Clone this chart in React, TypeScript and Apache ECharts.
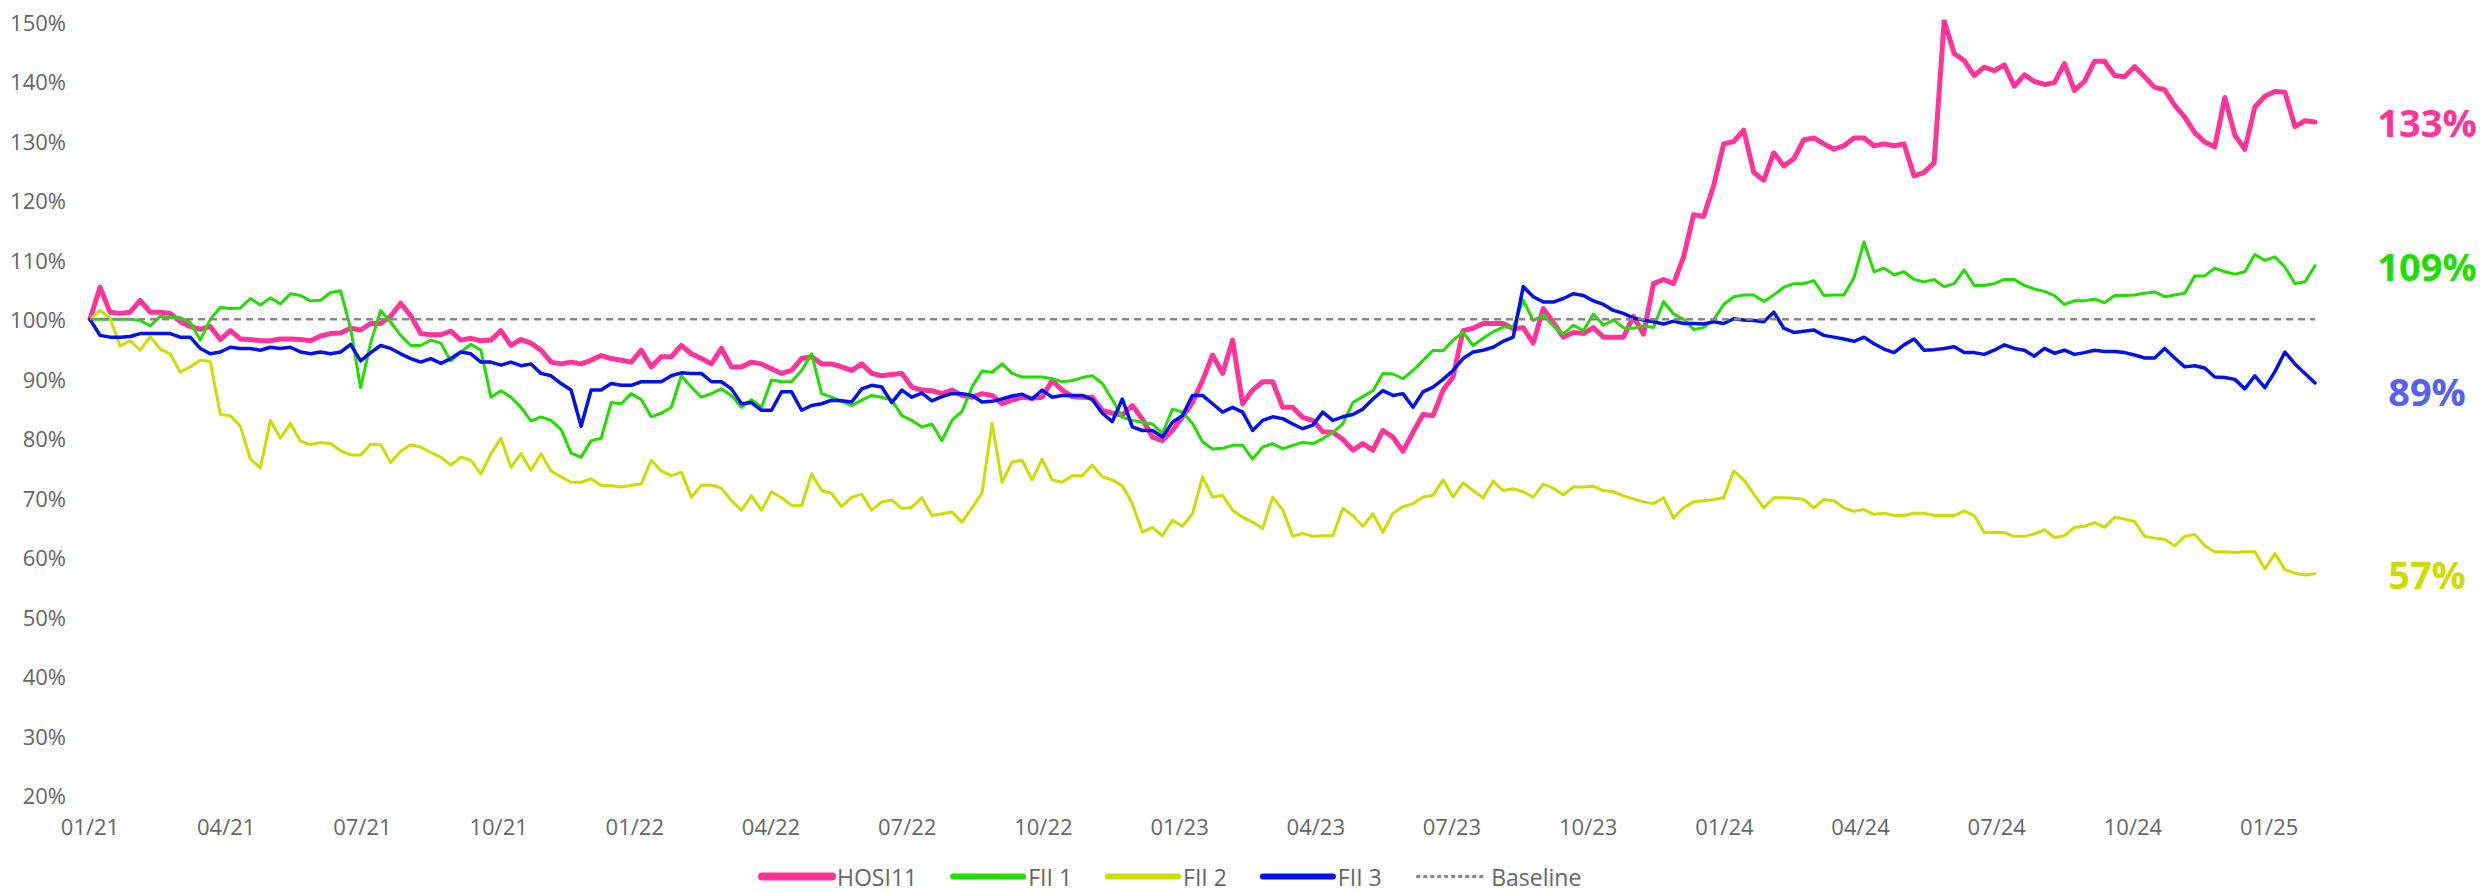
import React, { useEffect, useRef } from "react";
import * as echarts from "echarts";

// Months elapsed since Jan 2021 at the last observation (early Feb 2025)
const END_MONTH = 49.01;

// Normalised performance (%), sampled at equal time steps from Jan 2021 to Feb 2025
const hosi11 = [
  100, 105.4, 101.2, 101.0, 101.2, 103.2, 101.2, 101.2, 101.0, 99.6, 98.8, 98.3, 98.8, 96.6, 98.1, 96.7, 96.6, 96.4, 96.4, 96.7, 96.7, 96.6, 96.4, 97.2, 97.6, 97.7, 98.5, 98.2, 99.3, 99.3, 100.5, 102.7, 100.6, 97.6, 97.4, 97.4, 98.0, 96.5,
  96.8, 96.4, 96.5, 98.1, 95.6, 96.6, 96.0, 94.8, 92.8, 92.5, 92.8, 92.5, 93.1, 93.9, 93.4, 93.1, 92.8, 94.8, 92.0, 93.7, 93.7, 95.6, 94.2, 93.4, 92.5, 95.1, 92.0, 92.0, 92.8, 92.5, 91.7, 90.9, 91.4, 93.4, 93.7, 92.5, 92.5,
  92.0, 91.4, 92.5, 90.9, 90.5, 90.7, 90.9, 88.6, 88.1, 88.0, 87.5, 88.1, 87.2, 86.9, 87.5, 87.2, 85.8, 86.4, 86.9, 86.7, 86.9, 89.7, 88.1, 87.0, 86.9, 86.9, 84.7, 84.2, 83.9, 85.5, 83.2, 80.2, 79.6, 81.3, 83.6, 86.0, 89.7, 94.0,
  90.9, 96.5, 85.8, 88.1, 89.5, 89.5, 85.2, 85.2, 83.5, 83.0, 81.1, 81.0, 79.8, 78.0, 79.1, 78.0, 81.3, 80.2, 77.8, 81.0, 84.0, 83.8, 88.1, 90.3, 98.1, 98.5, 99.3, 99.3, 99.3, 98.4, 98.6, 96.0, 101.8, 99.5, 97.0, 97.8, 97.6,
  98.6, 97.0, 97.0, 97.0, 100.5, 97.5, 106.0, 106.7, 106.0, 110.5, 117.6, 117.3, 122.5, 129.5, 129.9, 131.8, 124.7, 123.4, 128.0, 125.8, 127.0, 130.2, 130.5, 129.5, 128.6, 129.2, 130.5, 130.5, 129.2, 129.5, 129.2, 129.5, 124.1, 124.7, 126.3, 150.2, 144.7, 143.5,
  141.0, 142.4, 141.8, 142.8, 139.2, 141.1, 140.0, 139.5, 139.8, 143.0, 138.5, 140.0, 143.4, 143.4, 141.0, 140.8, 142.5, 140.8, 139.0, 138.6, 136.0, 134.0, 131.4, 129.8, 129.0, 137.3, 131.0, 128.6, 135.7, 137.5, 138.3, 138.2, 132.4, 133.4, 133.2,
];

const fii1 = [
  100, 100, 100, 100, 100, 99.8, 98.9, 100.5, 100.3, 100.3, 99.5, 96.5, 100.0, 102.0, 101.8, 101.9, 103.5, 102.4, 103.6, 102.6, 104.3, 104.0, 103.1, 103.2, 104.5, 104.8, 98.5, 88.5, 96.0, 101.5, 99.5, 97.3, 95.6, 95.6, 96.5, 96.0, 93.0, 94.5,
  95.8, 94.8, 86.9, 88.0, 86.9, 85.2, 82.9, 83.6, 83.0, 81.5, 77.5, 76.8, 79.6, 80.0, 86.0, 85.8, 87.5, 86.5, 83.6, 84.2, 85.2, 90.5, 88.6, 86.9, 87.5, 88.3, 87.2, 85.2, 86.5, 85.2, 89.8, 89.5, 89.5, 91.4, 94.2, 87.5, 86.9,
  86.2, 85.5, 86.4, 87.2, 86.9, 86.4, 83.8, 83.0, 81.9, 82.4, 79.6, 83.0, 84.5, 88.6, 91.3, 91.1, 92.5, 90.9, 90.3, 90.3, 90.3, 90.0, 89.5, 89.7, 90.2, 90.5, 89.2, 86.5, 83.5, 83.0, 82.7, 82.4, 80.8, 84.9, 84.4, 82.5, 79.4, 78.2,
  78.3, 78.8, 78.8, 76.5, 78.5, 79.1, 78.2, 78.8, 79.3, 79.1, 79.9, 81.0, 82.4, 86.0, 87.0, 88.0, 90.9, 90.8, 90.0, 91.4, 93.1, 94.8, 94.7, 96.5, 97.8, 95.6, 96.8, 97.9, 98.7, 98.7, 103.2, 99.8, 100.7, 98.9, 97.5, 99.0, 98.1,
  100.9, 99.0, 99.9, 98.6, 98.5, 98.9, 98.6, 103.0, 100.9, 100.0, 98.3, 98.6, 99.9, 102.5, 103.8, 104.1, 104.1, 103.0, 104.1, 105.4, 106.0, 106.0, 106.5, 104.0, 104.1, 104.1, 107.0, 113.0, 108.0, 108.6, 107.5, 108.0, 106.7, 106.3, 106.7, 105.5, 106.0, 108.3,
  105.7, 105.7, 106.0, 106.7, 106.7, 105.7, 105.1, 104.7, 104.0, 102.5, 103.1, 103.1, 103.4, 102.8, 104.0, 104.0, 104.1, 104.4, 104.6, 103.8, 104.1, 104.4, 107.3, 107.3, 108.6, 108.0, 107.6, 108.0, 110.9, 109.9, 110.5, 108.8, 106.0, 106.3, 109.0,
];

const fii2 = [
  100, 101.5, 100.2, 95.5, 96.4, 94.8, 97.1, 95.0, 94.2, 91.1, 92.0, 93.1, 92.9, 84.0, 83.8, 82.0, 76.5, 75.0, 83.0, 80.0, 82.5, 79.5, 78.9, 79.3, 79.1, 77.9, 77.2, 77.2, 79.0, 78.9, 75.9, 77.8, 78.9, 78.5, 77.6, 76.8, 75.5, 76.8,
  76.3, 74.0, 77.4, 80.0, 75.1, 77.4, 74.6, 77.4, 74.5, 73.5, 72.6, 72.6, 73.2, 72.1, 72.0, 71.8, 72.1, 72.3, 76.3, 74.5, 73.7, 74.3, 70.1, 72.1, 72.1, 71.6, 69.5, 67.9, 70.3, 67.9, 71.0, 70.0, 68.7, 68.7, 74.0, 71.2, 70.7,
  68.5, 70.1, 70.6, 67.9, 69.3, 69.6, 68.2, 68.4, 70.0, 67.0, 67.3, 67.6, 65.9, 68.3, 70.8, 82.5, 72.6, 76.0, 76.3, 73.0, 76.5, 73.0, 72.6, 73.7, 73.7, 75.5, 73.5, 73.0, 72.0, 69.0, 64.2, 65.0, 63.6, 66.2, 65.2, 67.3, 73.5, 70.1,
  70.4, 67.9, 66.7, 65.9, 64.8, 70.1, 68.0, 63.5, 64.0, 63.5, 63.6, 63.6, 68.2, 67.0, 65.2, 67.3, 64.2, 67.4, 68.5, 69.0, 70.1, 70.4, 73.0, 70.1, 72.5, 71.2, 70.0, 72.8, 71.2, 71.5, 71.0, 70.1, 72.3, 71.6, 70.5, 71.8, 71.8,
  71.9, 71.2, 71.0, 70.3, 69.8, 69.3, 69.0, 70.0, 66.6, 68.3, 69.3, 69.5, 69.7, 70.0, 74.5, 73.0, 70.6, 68.3, 70.0, 70.0, 69.9, 69.7, 68.3, 69.7, 69.5, 68.3, 67.7, 68.0, 67.2, 67.4, 67.0, 67.0, 67.4, 67.4, 67.0, 67.0, 67.0, 67.8,
  67.0, 64.1, 64.2, 64.1, 63.5, 63.5, 63.9, 64.6, 63.3, 63.6, 65.0, 65.2, 65.8, 65.0, 66.7, 66.4, 66.0, 63.5, 63.2, 63.0, 61.9, 63.5, 63.8, 61.9, 60.9, 60.9, 60.8, 60.9, 60.9, 58.0, 60.6, 57.9, 57.3, 57.0, 57.2,
];

const fii3 = [
  100, 97.3, 97.0, 97.0, 97.1, 97.6, 97.6, 97.6, 97.6, 97.0, 97.0, 95.1, 94.2, 94.5, 95.3, 95.1, 95.1, 94.8, 95.3, 95.1, 95.3, 94.5, 94.2, 94.5, 94.2, 94.5, 95.8, 93.0, 94.4, 95.6, 95.1, 94.2, 93.4, 92.8, 93.4, 92.6, 93.4, 94.5,
  94.2, 92.8, 92.8, 92.3, 92.8, 92.2, 92.5, 90.9, 90.5, 89.2, 88.1, 82.0, 88.1, 88.1, 89.2, 88.9, 88.9, 89.5, 89.5, 89.5, 90.5, 91.0, 90.9, 90.9, 89.5, 89.5, 88.3, 85.8, 86.0, 84.7, 84.7, 87.8, 87.8, 84.7, 85.5, 85.8, 86.4,
  86.3, 86.1, 88.3, 88.9, 88.6, 86.0, 88.1, 86.9, 87.6, 86.3, 87.0, 87.5, 87.5, 87.2, 86.1, 86.2, 86.6, 87.1, 87.4, 86.6, 88.1, 86.9, 87.2, 87.2, 87.2, 86.5, 84.2, 82.8, 86.6, 81.9, 81.3, 81.3, 80.2, 82.7, 83.8, 87.2, 87.2, 85.8,
  84.4, 85.2, 84.4, 81.3, 83.0, 83.6, 83.3, 82.4, 81.6, 82.2, 84.4, 83.0, 83.6, 84.0, 84.9, 86.6, 88.0, 87.2, 87.5, 85.2, 87.8, 88.6, 89.9, 91.4, 93.4, 94.5, 94.8, 95.3, 96.3, 97.0, 105.5, 103.8, 102.9, 102.9, 103.5, 104.3, 104.0,
  103.1, 102.5, 101.5, 101.0, 100.2, 99.9, 99.6, 99.2, 99.7, 99.3, 99.3, 99.2, 99.6, 99.3, 100.1, 99.9, 99.8, 99.6, 101.2, 98.5, 97.8, 98.0, 98.2, 97.3, 97.0, 96.7, 96.3, 97.0, 95.9, 95.0, 94.4, 95.7, 96.7, 94.8, 94.9, 95.1, 95.4, 94.4,
  94.4, 94.1, 94.8, 95.7, 95.1, 94.8, 93.8, 95.1, 94.3, 94.8, 94.1, 94.4, 94.8, 94.6, 94.6, 94.4, 94.0, 93.5, 93.5, 95.1, 93.5, 92.0, 92.2, 91.8, 90.3, 90.2, 89.9, 88.3, 90.5, 88.5, 91.2, 94.5, 92.5, 90.9, 89.3,
];

const BASELINE = 100;
const Y_MIN = 20;
const Y_MAX = 150;
const Y_STEP = 10;
const X_STEP_MONTHS = 3;

const FONT = "'Open Sans', 'Noto Sans', sans-serif";
const AXIS_GREY = "#666666";

const COLORS = {
  hosi: "#FF3399",
  fii1: "#22DD00",
  fii2: "#CCDD00",
  fii3: "#0011EE",
  fii3Label: "#5560F5",
  base: "#888888",
};

function monthLabel(m: number): string {
  const r = Math.round(m);
  if (Math.abs(m - r) > 1e-6 || r % 3 !== 0) return "";
  const month = (r % 12) + 1;
  const year = 21 + Math.floor(r / 12);
  return `${month < 10 ? "0" : ""}${month}/${year}`;
}

export default function App() {
  const ref = useRef<HTMLDivElement>(null);

  useEffect(() => {
    if (!ref.current) return;
    const chart = echarts.init(ref.current, null, { renderer: "svg" });
    const n = hosi11.length;
    const xs = hosi11.map((_, i) => (i * END_MONTH) / (n - 1));
    const pairs = (arr: number[]) => arr.map((v, i) => [xs[i], v]);

    const endLabel = (color: string, offsetY = 0) => ({
      show: true,
      formatter: (p: any) => `${Math.round(p.value[1])}%`,
      color,
      fontSize: 38,
      fontWeight: "bold",
      fontFamily: FONT,
      align: "center",
      verticalAlign: "middle",
      distance: 112,
      offset: [0, offsetY],
    });

    const lineSeries = (name: string, data: number[], color: string, width: number, label: any) => ({
      name,
      type: "line",
      data: pairs(data),
      symbol: "none",
      showSymbol: false,
      smooth: false,
      lineStyle: { color, width, cap: "round", join: "round" },
      itemStyle: { color },
      endLabel: label,
      emphasis: { disabled: true },
    });

    chart.setOption({
      animation: false,
      backgroundColor: "#ffffff",
      textStyle: { fontFamily: FONT },
      grid: { left: 90, right: 174, top: 22, bottom: 96, containLabel: false },
      legend: {
        left: 753,
        top: 860,
        itemWidth: 70,
        itemHeight: 24,
        itemGap: 33,
        itemStyle: { opacity: 0 },
        textStyle: { fontSize: 23, color: AXIS_GREY, fontFamily: FONT },
        data: [
          { name: "HOSI11", itemStyle: { opacity: 0 }, lineStyle: { width: 8, cap: "round", color: COLORS.hosi } },
          { name: "FII 1", itemStyle: { opacity: 0 }, lineStyle: { width: 6, cap: "round", color: COLORS.fii1 } },
          { name: "FII 2", itemStyle: { opacity: 0 }, lineStyle: { width: 6, cap: "round", color: COLORS.fii2 } },
          { name: "FII 3", itemStyle: { opacity: 0 }, lineStyle: { width: 6, cap: "round", color: COLORS.fii3 } },
          { name: "Baseline", itemStyle: { opacity: 0 }, lineStyle: { width: 3, type: [4, 3], color: COLORS.base } },
        ],
      },
      xAxis: {
        type: "value",
        min: 0,
        max: END_MONTH,
        interval: X_STEP_MONTHS,
        axisLine: { show: false },
        axisTick: { show: false },
        splitLine: { show: false },
        axisLabel: {
          formatter: (v: number) => monthLabel(v),
          fontSize: 22,
          color: AXIS_GREY,
          fontFamily: FONT,
          margin: 20,
          showMaxLabel: false,
          showMinLabel: true,
        },
      },
      yAxis: {
        type: "value",
        min: Y_MIN,
        max: Y_MAX,
        interval: Y_STEP,
        axisLine: { show: false },
        axisTick: { show: false },
        splitLine: { show: false },
        axisLabel: {
          formatter: "{value}%",
          fontSize: 22,
          color: AXIS_GREY,
          fontFamily: FONT,
          margin: 24,
        },
      },
      series: [
        lineSeries("HOSI11", hosi11, COLORS.hosi, 5, endLabel(COLORS.hosi)),
        lineSeries("FII 1", fii1, COLORS.fii1, 3, endLabel(COLORS.fii1)),
        lineSeries("FII 2", fii2, COLORS.fii2, 3, endLabel(COLORS.fii2)),
        lineSeries("FII 3", fii3, COLORS.fii3, 3.5, endLabel(COLORS.fii3Label, 8)),
        {
          name: "Baseline",
          type: "line",
          data: [
            [0, BASELINE],
            [END_MONTH, BASELINE],
          ],
          symbol: "none",
          showSymbol: false,
          lineStyle: { color: COLORS.base, width: 2.5, type: [7, 5] },
          itemStyle: { color: COLORS.base },
          emphasis: { disabled: true },
        },
      ],
    });

    return () => chart.dispose();
  }, []);

  return (
    <div
      ref={ref}
      style={{ position: "absolute", left: 0, top: 0, width: 2489, height: 891 }}
    />
  );
}
